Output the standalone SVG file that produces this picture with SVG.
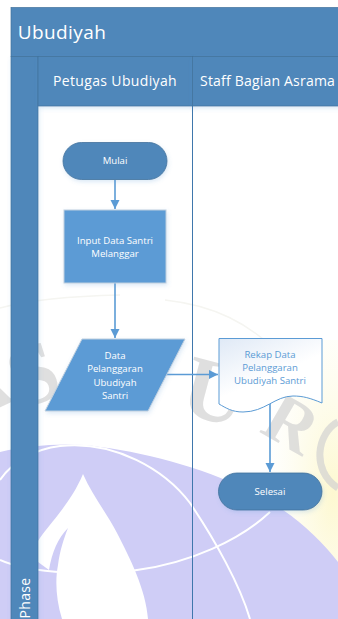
<svg xmlns="http://www.w3.org/2000/svg" width="338" height="619" viewBox="0 0 338 619">
<defs>
<linearGradient id="docg" x1="0" y1="0" x2="0.6" y2="1"><stop offset="0" stop-color="#dfe9f6"/><stop offset="0.6" stop-color="#ffffff"/></linearGradient>
<radialGradient id="glow" cx="0.95" cy="0.55" r="0.7"><stop offset="0" stop-color="#fdf8d0"/><stop offset="1" stop-color="#fdfbe6" stop-opacity="0"/></radialGradient>
<filter id="sh" x="-20%" y="-20%" width="140%" height="150%"><feDropShadow dx="1" dy="2" stdDeviation="2" flood-color="#5b9bd5" flood-opacity="0.22"/></filter>
<marker id="arr" markerUnits="userSpaceOnUse" markerWidth="10" markerHeight="10" refX="9" refY="5" orient="auto"><path d="M0,0.5 L9,5 L0,9.5 Z" fill="#5b9bd5"/></marker>
</defs>
<style>
text{font-family:"Open Sans","Noto Sans","Liberation Sans",sans-serif;fill:#fff;text-anchor:middle}
.band{fill:#4f87ba;stroke:#41719c;stroke-width:.7}
.term{fill:#4f87ba;stroke:#41719c;stroke-width:.8;filter:url(#sh)}
.small{font-size:9.6px}
.hdr{font-size:14px;letter-spacing:.35px}
.conn{fill:none;stroke:#5b9bd5;stroke-width:1.6;marker-end:url(#arr)}
.wm{font-family:"Liberation Serif",serif;font-weight:700;fill:#d2d2d2;fill-opacity:.7;text-anchor:middle}
.doc{fill:#5b9bd5;font-size:9.6px}
</style>
<rect width="338" height="619" fill="#fff"/>
<g id="watermark">
<rect x="240" y="340" width="98" height="279" fill="url(#glow)"/>
<path d="M0,452 C30,445 70,442 100,447 C165,455 240,480 283,510 C305,525 325,545 338,562 V619 H0 Z" fill="#cfcdf6"/>
<path d="M0,480 C12,462 35,449 60,446 C115,440 165,470 190,503 C215,540 240,585 250,619" fill="none" stroke="#fff" stroke-width="2"/>
<path d="M0,560 C30,574 100,576 137,570 C190,563 240,540 270,512" fill="none" stroke="#fff" stroke-width="2"/>
<path d="M83,474 C92,495 108,515 117,533 C130,558 146,590 148,619 H62 C56,600 55,580 58,565 C60,550 64,538 68,528 C58,538 52,552 49,570 L38,562 V541 C48,525 70,505 83,474 Z" fill="#fff"/>
<text class="wm" font-size="80" transform="translate(-10,412) rotate(-25)">A</text>
<text class="wm" font-size="88" transform="translate(42,402) rotate(-18)">S</text>
<text class="wm" font-size="88" transform="translate(208,420) rotate(15)">U</text>
<text class="wm" font-size="70" transform="translate(280,444) rotate(30)">R</text>
<path d="M338,422 C318,432 310,470 338,488" fill="none" stroke="#d2d2d2" stroke-width="7" stroke-opacity=".7"/>
<path d="M0,308 C30,300 70,296 120,295 M165,300 C210,305 250,320 290,365" fill="none" stroke="#f5f5f1" stroke-width="1.500"/>
</g>
<g id="pool">
<rect class="band" x="11" y="7.500" width="340" height="49"/>
<text font-size="19" letter-spacing=".4" x="62" y="39">Ubudiyah</text>
</g>
<g id="phase">
<rect x="11" y="56.500" width="27" height="570" fill="#4f87ba" stroke="#41719c" stroke-width=".7" filter="url(#sh)"/>
<text font-size="14" letter-spacing=".3" transform="translate(30,598) rotate(-90)">Phase</text>
</g>
<g id="lane-petugas">
<rect class="band" x="38" y="56.500" width="154.500" height="49.500" filter="url(#sh)"/>
<text class="hdr" x="115" y="86">Petugas Ubudiyah</text>
<path d="M192.500,106 V619" stroke="#3f77ac" stroke-width="1" fill="none"/>
</g>
<g id="lane-staff">
<rect class="band" x="192.500" y="56.500" width="160" height="49.500" filter="url(#sh)"/>
<text class="hdr" x="200" y="86" style="text-anchor:start;letter-spacing:.2px">Staff Bagian Asrama</text>
</g>
<g id="connectors">
<path class="conn" d="M115,180 V209"/>
<path class="conn" d="M115,283 V338"/>
<path class="conn" d="M166,374.500 H218"/>
<path class="conn" d="M270,404 V472"/>
</g>
<g id="mulai">
<rect class="term" x="63" y="142.500" width="104" height="37" rx="18.500"/>
<text class="small" x="115" y="164">Mulai</text>
</g>
<g id="input">
<rect x="64" y="210" width="102" height="73" fill="#5b9bd5" stroke="#bfcfdf" stroke-width="1" filter="url(#sh)"/>
<text class="small" x="115" y="244">Input Data Santri</text>
<text class="small" x="115" y="257">Melanggar</text>
</g>
<g id="data">
<path d="M82,339 H185 L148,411 H45 Z" fill="#5b9bd5" stroke="#bfcfdf" stroke-width="1" filter="url(#sh)"/>
<text class="small" x="115" y="359">Data</text>
<text class="small" x="115" y="372">Pelanggaran</text>
<text class="small" x="115" y="386">Ubudiyah</text>
<text class="small" x="115" y="399">Santri</text>
</g>
<g id="rekap">
<path d="M219,338.500 H322 V403 C310,398 303,396 293,396 C275,396 265,412 243,412 C232,412 226,408 219,404 Z" fill="url(#docg)" stroke="#5b9bd5" stroke-width="1"/>
<text class="doc" x="270" y="358">Rekap Data</text>
<text class="doc" x="270" y="371">Pelanggaran</text>
<text class="doc" x="270" y="384">Ubudiyah Santri</text>
</g>
<g id="selesai">
<rect class="term" x="218.500" y="473" width="103.500" height="37" rx="18.500"/>
<text class="small" x="270" y="495">Selesai</text>
</g>
</svg>
